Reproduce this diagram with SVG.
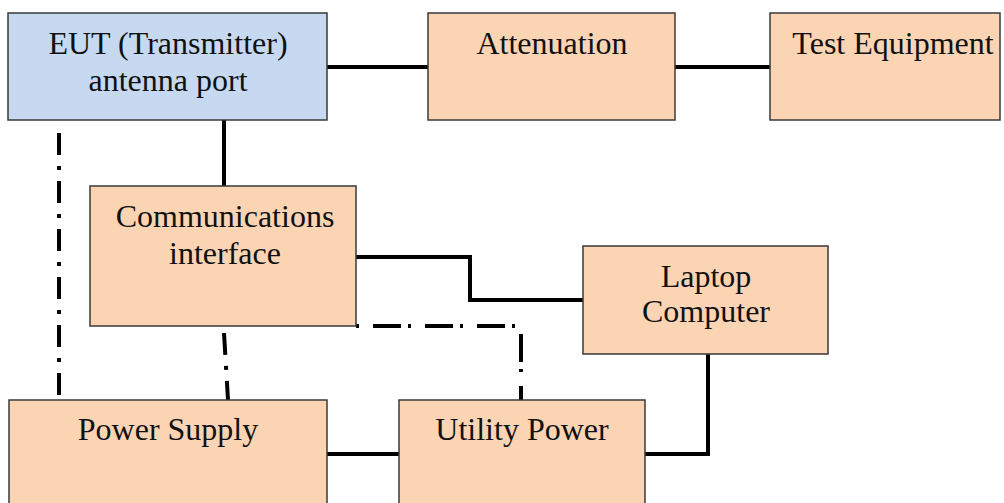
<svg xmlns="http://www.w3.org/2000/svg" width="1004" height="503" viewBox="0 0 1004 503">
<style>
.box{fill:#fbd4b4;stroke:#3a3a3a;stroke-width:1.5}
.blue{fill:#c6d9f1}
.t{font-family:"Liberation Serif","Times New Roman",serif;font-size:32px;fill:#111;text-anchor:middle}
.s{fill:none;stroke:#000;stroke-width:4}
.d{fill:none;stroke:#000;stroke-width:4;stroke-dasharray:22 11 4 11}
</style>
<rect width="1004" height="503" fill="#fff"/>
<g id="connectors">
<line class="s" x1="327" y1="67" x2="428" y2="67"/>
<line class="s" x1="675" y1="67" x2="770" y2="67"/>
<line class="s" x1="224" y1="120" x2="224" y2="186"/>
<polyline class="s" points="356,257 470,257 470,300 583,300"/>
<line class="s" x1="327" y1="454" x2="399" y2="454"/>
<polyline class="s" points="645,454 708,454 708,354"/>
<line class="d" x1="59" y1="133" x2="59" y2="400"/>
<line class="d" x1="224" y1="333" x2="228" y2="400"/>
<polyline class="d" points="356,326 521,326 521,400" style="stroke-dasharray:3 14 28 7"/>
</g>
<g id="eut">
<rect class="box blue" x="8" y="13" width="319" height="107"/>
<text class="t" x="168" y="54">EUT (Transmitter)</text>
<text class="t" x="168" y="91">antenna port</text>
</g>
<g id="attenuation">
<rect class="box" x="428" y="13" width="247" height="107"/>
<text class="t" x="552" y="54">Attenuation</text>
</g>
<g id="test-equipment">
<rect class="box" x="770" y="13" width="230" height="107"/>
<text class="t" x="893" y="54">Test Equipment</text>
</g>
<g id="comm-interface">
<rect class="box" x="90" y="186" width="266" height="140"/>
<text class="t" x="225" y="227">Communications</text>
<text class="t" x="225" y="264">interface</text>
</g>
<g id="laptop">
<rect class="box" x="583" y="246" width="245" height="108"/>
<text class="t" x="706" y="287">Laptop</text>
<text class="t" x="706" y="322">Computer</text>
</g>
<g id="power-supply">
<rect class="box" x="9" y="400" width="318" height="110"/>
<text class="t" x="168" y="440">Power Supply</text>
</g>
<g id="utility-power">
<rect class="box" x="399" y="400" width="246" height="110"/>
<text class="t" x="522" y="440">Utility Power</text>
</g>
</svg>
